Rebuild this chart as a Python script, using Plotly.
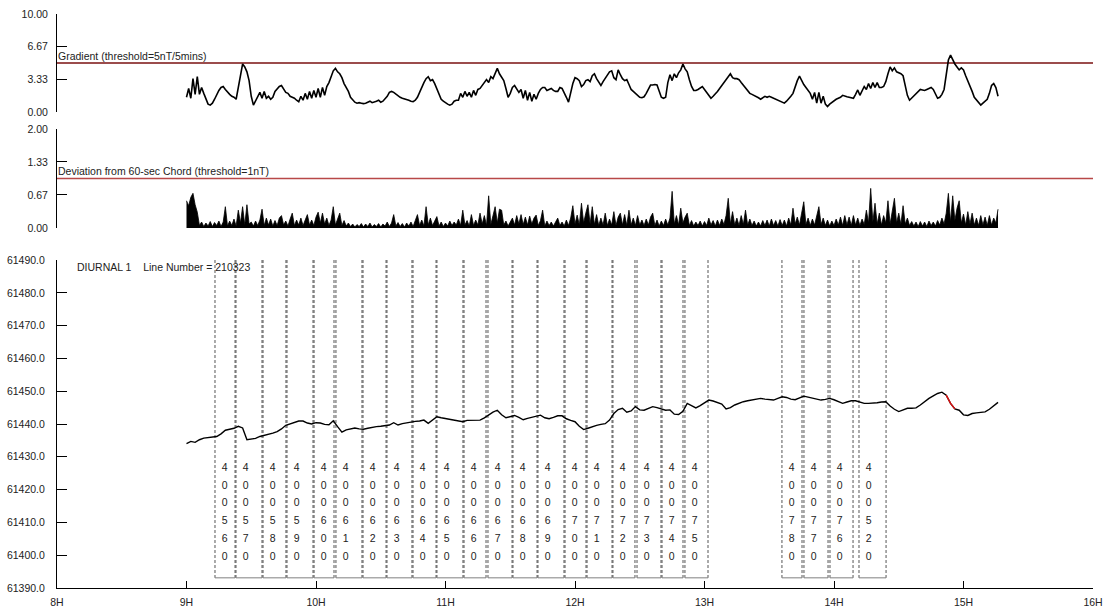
import numpy as np
import plotly.graph_objects as go

# ---------------------------------------------------------------------------
# Survey day 210323 - magnetic base station QC
# ---------------------------------------------------------------------------
START_HOUR = 9.0          # first sample, decimal hours

# Gradient (nT / 5 min), one sample per minute from 09:00
GRAD_STEP_MIN = 1
GRADIENT = [
    1.5, 2.4, 1.4, 3.4, 1.8, 3.6, 1.8, 2.5, 1.9, 1.3,
    0.8, 0.7, 0.9, 1.3, 1.8, 2.2, 2.5, 2.6, 2.3, 2.0,
    1.8, 1.6, 1.5, 1.3, 2.5, 4.0, 4.9, 4.6, 4.1, 3.2,
    1.6, 0.7, 1.1, 1.6, 2.0, 1.4, 2.1, 1.4, 1.6, 1.3,
    1.5, 2.1, 2.4, 2.6, 2.7, 2.3, 2.0, 1.9, 1.6, 1.5,
    1.4, 1.2, 1.05, 1.6, 1.2, 1.9, 1.3, 2.1, 1.4, 2.2,
    1.5, 2.4, 1.5, 2.5, 1.7, 2.6, 3.0, 3.6, 4.2, 4.45,
    4.1, 3.9, 3.5, 2.9, 2.5, 2.1, 1.5, 1.2, 1.0, 0.9,
    0.95, 0.9, 0.85, 0.9, 1.0, 1.1, 0.95, 1.0, 1.1, 1.2,
    1.0, 1.1, 1.3, 1.6, 2.0, 2.1, 2.0, 1.8, 1.7, 1.5,
    1.4, 1.35, 1.3, 1.2, 1.1, 1.05, 1.2, 1.5, 2.0, 2.6,
    3.0, 3.4, 3.6, 3.2, 3.3, 2.9, 2.3, 1.8, 1.3, 1.1,
    0.9, 0.8, 0.7, 0.8, 1.1, 1.2, 1.2, 1.9, 1.5, 2.1,
    1.6, 2.0, 1.5, 2.2, 1.7, 2.3, 2.4, 2.7, 2.9, 3.3,
    3.0, 3.6, 3.4, 3.9, 4.45, 3.9, 3.6, 3.2, 2.4, 1.5,
    1.9, 2.5, 2.7, 2.4, 2.0, 2.3, 1.4, 2.2, 1.2, 2.0,
    1.1, 1.8, 1.3, 1.9, 2.3, 2.5, 2.5, 2.2, 2.3, 2.4,
    2.2, 2.1, 2.1, 2.5, 2.4, 2.0, 1.5, 1.0, 2.0, 2.9,
    3.5, 3.4, 3.2, 2.6, 2.8, 3.2, 3.3, 3.1, 3.7, 3.9,
    3.4, 3.0, 2.7, 3.1, 3.4, 3.7, 4.1, 4.2, 3.5, 3.3,
    4.3, 3.8, 3.4, 3.2, 3.3, 2.8, 2.3, 2.1, 1.9, 1.7,
    1.5, 1.45, 1.55, 1.9, 2.3, 2.75, 2.75, 2.8, 2.75, 2.2,
    1.5, 1.4, 1.5, 3.0, 3.8, 3.2, 3.9, 3.5, 4.0, 4.3,
    4.9, 4.4, 4.1, 3.3, 2.6, 2.2, 2.2, 2.3, 2.45, 2.6,
    2.3, 2.0, 1.7, 1.4, 1.6, 1.8, 2.1, 2.4, 2.7, 3.0,
    3.2, 3.6, 3.9, 3.5, 3.4, 3.4, 3.3, 3.0, 2.7, 2.5,
    2.2, 1.9, 1.8, 1.7, 1.6, 1.45, 1.3, 1.5, 1.6, 1.5,
    1.6, 1.5, 1.4, 1.3, 1.2, 1.1, 1.0, 0.9, 1.1, 1.3,
    1.6, 1.9, 2.6, 3.2, 3.65, 3.2, 2.8, 2.5, 2.2, 1.9,
    1.3, 2.0, 0.9, 2.0, 0.9, 1.6, 0.8, 0.55, 0.8, 1.0,
    1.2, 1.3, 1.4, 1.5, 1.7, 1.6, 1.55, 1.5, 1.45, 1.4,
    1.8, 2.25, 1.7, 2.2, 2.6, 2.3, 2.9, 2.4, 3.0, 2.5,
    3.0, 2.5, 2.5, 2.6, 3.1, 3.9, 4.6, 4.2, 4.5, 4.1,
    4.0, 3.9, 3.7, 2.7, 1.7, 1.2, 1.4, 1.6, 1.9, 2.1,
    2.3, 2.25, 2.2, 2.3, 2.4, 2.5, 2.3, 1.9, 1.4, 1.5,
    1.8, 2.3, 3.8, 5.3, 5.8, 5.3, 4.9, 4.6, 4.3, 4.5,
    4.3, 3.7, 3.2, 2.6, 2.1, 1.5, 1.2, 0.9, 0.7, 0.9,
    1.1, 1.3, 1.9, 2.7, 2.9, 2.5, 1.6,
]

# Deviation from 60-second chord (nT), one sample per minute from 09:00
DEV_STEP_MIN = 1
DEVIATION = [
    0.55, 0.45, 0.62, 0.70, 0.47, 0.32, 0.05, 0.12, 0.03, 0.10,
    0.04, 0.13, 0.03, 0.11, 0.05, 0.14, 0.03, 0.12, 0.43, 0.04,
    0.14, 0.05, 0.18, 0.04, 0.36, 0.10, 0.43, 0.06, 0.47, 0.08,
    0.12, 0.04, 0.14, 0.05, 0.16, 0.38, 0.05, 0.20, 0.06, 0.18,
    0.04, 0.15, 0.05, 0.20, 0.25, 0.06, 0.14, 0.04, 0.18, 0.30,
    0.05, 0.16, 0.06, 0.20, 0.05, 0.18, 0.27, 0.06, 0.16, 0.05,
    0.22, 0.32, 0.10, 0.30, 0.08, 0.20, 0.05, 0.16, 0.43, 0.06,
    0.18, 0.30, 0.05, 0.15, 0.04, 0.10, 0.03, 0.08, 0.02, 0.07,
    0.03, 0.09, 0.02, 0.08, 0.03, 0.10, 0.02, 0.07, 0.03, 0.09,
    0.02, 0.08, 0.04, 0.12, 0.03, 0.10, 0.27, 0.04, 0.11, 0.03,
    0.09, 0.02, 0.10, 0.04, 0.12, 0.03, 0.15, 0.27, 0.05, 0.16,
    0.04, 0.43, 0.06, 0.20, 0.05, 0.15, 0.23, 0.04, 0.12, 0.03,
    0.10, 0.04, 0.14, 0.05, 0.12, 0.06, 0.18, 0.05, 0.36, 0.06,
    0.15, 0.04, 0.27, 0.05, 0.16, 0.06, 0.30, 0.08, 0.25, 0.05,
    0.65, 0.07, 0.28, 0.43, 0.10, 0.38, 0.36, 0.06, 0.14, 0.04,
    0.12, 0.20, 0.06, 0.25, 0.08, 0.27, 0.07, 0.22, 0.06, 0.24,
    0.08, 0.20, 0.26, 0.05, 0.15, 0.36, 0.04, 0.14, 0.05, 0.12,
    0.04, 0.13, 0.20, 0.05, 0.12, 0.04, 0.16, 0.05, 0.20, 0.45,
    0.08, 0.26, 0.06, 0.50, 0.10, 0.30, 0.47, 0.08, 0.43, 0.07,
    0.27, 0.05, 0.20, 0.06, 0.30, 0.05, 0.18, 0.06, 0.33, 0.05,
    0.22, 0.30, 0.06, 0.27, 0.05, 0.36, 0.06, 0.20, 0.05, 0.25,
    0.06, 0.16, 0.05, 0.18, 0.06, 0.22, 0.30, 0.05, 0.16, 0.04,
    0.14, 0.05, 0.18, 0.06, 0.20, 0.74, 0.08, 0.25, 0.06, 0.40,
    0.10, 0.22, 0.30, 0.05, 0.15, 0.04, 0.12, 0.05, 0.14, 0.04,
    0.13, 0.05, 0.20, 0.06, 0.15, 0.04, 0.16, 0.05, 0.18, 0.07,
    0.25, 0.60, 0.08, 0.33, 0.06, 0.20, 0.05, 0.25, 0.07, 0.36,
    0.06, 0.18, 0.05, 0.14, 0.04, 0.12, 0.04, 0.15, 0.05, 0.16,
    0.04, 0.18, 0.05, 0.15, 0.04, 0.17, 0.05, 0.16, 0.04, 0.20,
    0.06, 0.40, 0.08, 0.22, 0.06, 0.30, 0.53, 0.07, 0.20, 0.05,
    0.18, 0.06, 0.25, 0.43, 0.07, 0.20, 0.05, 0.16, 0.04, 0.14,
    0.05, 0.18, 0.06, 0.22, 0.05, 0.25, 0.06, 0.22, 0.05, 0.25,
    0.06, 0.20, 0.05, 0.18, 0.07, 0.36, 0.10, 0.80, 0.12, 0.50,
    0.08, 0.30, 0.06, 0.25, 0.10, 0.55, 0.08, 0.35, 0.60, 0.10,
    0.30, 0.07, 0.45, 0.08, 0.20, 0.05, 0.13, 0.04, 0.12, 0.03,
    0.13, 0.04, 0.12, 0.03, 0.14, 0.05, 0.12, 0.04, 0.15, 0.06,
    0.20, 0.08, 0.30, 0.70, 0.12, 0.65, 0.15, 0.40, 0.55, 0.10,
    0.28, 0.06, 0.33, 0.08, 0.30, 0.06, 0.20, 0.05, 0.25, 0.06,
    0.22, 0.05, 0.25, 0.06, 0.20, 0.10, 0.38,
]

# Diurnal total field (nT), one sample every 2 minutes from 09:00
DIURNAL_STEP_MIN = 2
DIURNAL = [
    61434.0, 61434.7, 61434.4, 61435.2, 61435.7, 61435.8, 61435.9, 61436.2, 61437.0, 61438.1,
    61438.4, 61438.7, 61439.3, 61438.8, 61435.2, 61435.3, 61435.6, 61436.2, 61436.5, 61436.8,
    61437.2, 61437.7, 61438.5, 61439.6, 61440.0, 61440.4, 61440.9, 61440.9, 61440.3, 61440.0,
    61440.4, 61440.3, 61439.9, 61439.8, 61441.0, 61439.2, 61437.5, 61438.2, 61438.6, 61438.8,
    61438.5, 61438.4, 61438.7, 61439.0, 61439.2, 61439.3, 61439.6, 61439.7, 61440.4, 61439.7,
    61440.1, 61440.4, 61440.6, 61440.8, 61440.9, 61441.2, 61440.2, 61441.3, 61442.2, 61441.9,
    61441.7, 61441.5, 61441.3, 61441.1, 61440.7, 61441.1, 61441.2, 61441.1, 61441.2, 61441.9,
    61442.8, 61443.6, 61444.2, 61442.8, 61441.9, 61442.3, 61442.6, 61442.0, 61441.3, 61441.7,
    61442.0, 61442.4, 61442.7, 61441.9, 61441.6, 61442.0, 61442.5, 61442.5, 61441.6, 61441.1,
    61440.7, 61439.3, 61438.3, 61438.7, 61439.2, 61439.6, 61439.9, 61440.1, 61441.2, 61443.2,
    61444.4, 61444.8, 61443.6, 61444.0, 61445.3, 61444.3, 61444.2, 61444.8, 61445.3, 61445.0,
    61444.5, 61444.2, 61444.3, 61443.0, 61442.9, 61443.9, 61446.3, 61445.6, 61444.9, 61445.6,
    61446.5, 61447.3, 61447.0, 61446.6, 61446.1, 61444.6, 61445.0, 61445.8, 61446.4, 61446.8,
    61447.1, 61447.3, 61447.6, 61447.8, 61447.6, 61447.4, 61447.3, 61447.8, 61448.3, 61448.1,
    61447.6, 61447.4, 61448.0, 61448.5, 61448.2, 61447.9, 61447.6, 61447.3, 61447.5, 61447.8,
    61447.4, 61446.8, 61446.3, 61446.7, 61447.1, 61447.1, 61446.7, 61446.3, 61446.3, 61446.3,
    61446.5, 61446.7, 61446.8, 61445.5, 61444.5, 61443.8, 61444.3, 61444.8, 61444.8, 61444.9,
    61445.8, 61446.9, 61447.8, 61448.6, 61449.3, 61449.7, 61448.8, 61446.3, 61444.6, 61444.2,
    61442.8, 61442.6, 61443.2, 61443.4, 61443.5, 61443.7, 61444.5, 61445.6, 61446.6,
]

# Section of the diurnal flagged as out of spec (decimal hours)
FLAG_START, FLAG_END = 14.86, 14.94

# Thresholds
GRADIENT_THRESHOLD = 5.0
DEVIATION_THRESHOLD = 1.0

# Survey lines flown during the day (start / end, decimal hours)
LINE_NAMES = [
    "4005600", "4005700", "4005800", "4005900", "4006000", "4006100",
    "4006200", "4006300", "4006400", "4006500", "4006600", "4006700",
    "4006800", "4006900", "4007000", "4007100", "4007200", "4007300",
    "4007400", "4007500", "4007800", "4007700", "4007600", "4005200",
]
LINE_START = [
    9.220, 9.382, 9.591, 9.776, 9.985, 10.154, 10.363, 10.548, 10.749, 10.934,
    11.143, 11.328, 11.521, 11.714, 11.923, 12.093, 12.293, 12.479, 12.672, 12.849,
    13.598, 13.768, 13.969, 14.193,
]
LINE_END = [
    9.375, 9.583, 9.768, 9.977, 10.139, 10.355, 10.541, 10.741, 10.927, 11.135,
    11.313, 11.514, 11.707, 11.915, 12.085, 12.286, 12.463, 12.664, 12.834, 13.027,
    13.753, 13.954, 14.147, 14.402,
]
LINE_BOX_BOTTOM = 61393.1
LABEL_ROWS = [61426.6, 61421.1, 61415.7, 61410.2, 61404.7, 61399.2]
LABEL_OFFSET_H = 0.075

# Axis ticks
HOURS = [8, 9, 10, 11, 12, 13, 14, 15, 16]
HOUR_LABELS = [f"{h}H" for h in HOURS]
GRAD_TICKS = [0, 10 / 3, 20 / 3, 10]
GRAD_TICKTEXT = ["0.00", "3.33", "6.67", "10.00"]
DEV_TICKS = [0, 2 / 3, 4 / 3, 2]
DEV_TICKTEXT = ["0.00", "0.67", "1.33", "2.00"]

FONT = "Arial, 'Liberation Sans', sans-serif"
TXT = "#222222"


def times(values, step_min):
    return START_HOUR + np.arange(len(values)) * step_min / 60.0


t_grad = times(GRADIENT, GRAD_STEP_MIN)
t_dev = times(DEVIATION, DEV_STEP_MIN)
t_diu = times(DIURNAL, DIURNAL_STEP_MIN)
diurnal = np.array(DIURNAL)

fig = go.Figure()

# --- gradient panel -------------------------------------------------------
fig.add_trace(go.Scatter(x=[HOURS[0], HOURS[-1]], y=[GRADIENT_THRESHOLD] * 2,
                         mode="lines", line=dict(color="#7a1010", width=1.3),
                         xaxis="x2", yaxis="y2"))
fig.add_trace(go.Scatter(x=t_grad, y=GRADIENT, mode="lines",
                         line=dict(color="black", width=1.6),
                         xaxis="x2", yaxis="y2"))

# --- deviation panel ------------------------------------------------------
fig.add_trace(go.Scatter(x=[HOURS[0], HOURS[-1]], y=[DEVIATION_THRESHOLD] * 2,
                         mode="lines", line=dict(color="#b84848", width=1.3),
                         xaxis="x3", yaxis="y3"))
fig.add_trace(go.Scatter(x=t_dev, y=DEVIATION, mode="lines",
                         line=dict(color="black", width=0.8),
                         fill="tozeroy", fillcolor="black",
                         xaxis="x3", yaxis="y3"))

# --- survey line boxes ----------------------------------------------------
top = 61490.0
vx, vy, bx, by = [], [], [], []
for s, e in zip(LINE_START, LINE_END):
    vx += [s, s, None, e, e, None]
    vy += [top, LINE_BOX_BOTTOM, None, top, LINE_BOX_BOTTOM, None]
    bx += [s, e, None]
    by += [LINE_BOX_BOTTOM, LINE_BOX_BOTTOM, None]
fig.add_trace(go.Scatter(x=vx, y=vy, mode="lines",
                         line=dict(color="#555555", width=1, dash="3px,2px")))
fig.add_trace(go.Scatter(x=bx, y=by, mode="lines",
                         line=dict(color="#808080", width=1)))

# vertical line-number labels, one digit per row
lx, ly, lt = [], [], []
for name, s in zip(LINE_NAMES, LINE_START):
    for ch, row in zip(name, LABEL_ROWS):
        lx.append(s + LABEL_OFFSET_H)
        ly.append(row)
        lt.append(ch)
fig.add_trace(go.Scatter(x=lx, y=ly, text=lt, mode="text",
                         textfont=dict(family=FONT, size=10.5, color=TXT)))

# --- diurnal curve --------------------------------------------------------
fig.add_trace(go.Scatter(x=t_diu, y=diurnal, mode="lines",
                         line=dict(color="black", width=1.4)))
flag = (t_diu >= FLAG_START) & (t_diu <= FLAG_END)
fig.add_trace(go.Scatter(x=t_diu[flag], y=diurnal[flag], mode="lines",
                         line=dict(color="#e01010", width=1.4)))

axis_common = dict(showgrid=False, zeroline=False, showline=True,
                   linecolor="black", linewidth=1, ticks="inside",
                   tickcolor="black", tickwidth=1, automargin=False,
                   tickfont=dict(family=FONT, size=10.5, color=TXT))

fig.update_layout(
    width=1105, height=608,
    margin=dict(l=57, r=12, t=14, b=20, autoexpand=False),
    paper_bgcolor="white", plot_bgcolor="white",
    showlegend=False,
    font=dict(family=FONT, size=10.5, color=TXT),
    xaxis=dict(axis_common, domain=[0, 1], range=[8, 16], anchor="y",
               tickvals=HOURS, ticktext=HOUR_LABELS, ticklen=7,
               ticklabelstandoff=4),
    xaxis2=dict(domain=[0, 1], range=[8, 16], anchor="y2", visible=False,
                automargin=False),
    xaxis3=dict(domain=[0, 1], range=[8, 16], anchor="y3", visible=False,
                automargin=False),
    yaxis=dict(axis_common, domain=[0, 0.5714], range=[61390, 61490],
               dtick=10, tick0=61390, tickformat=".1f", ticklen=10,
               anchor="x", ticklabelstandoff=9),
    yaxis2=dict(axis_common, domain=[0.8293, 1.0], range=[0, 10],
                tickvals=GRAD_TICKS, ticktext=GRAD_TICKTEXT, ticklen=10,
                anchor="x2", ticklabelstandoff=6),
    yaxis3=dict(axis_common, domain=[0.6272, 0.7997], range=[0, 2],
                tickvals=DEV_TICKS, ticktext=DEV_TICKTEXT, ticklen=10,
                anchor="x3", ticklabelstandoff=6),
    annotations=[
        dict(text="Gradient (threshold=5nT/5mins)", x=8, y=GRADIENT_THRESHOLD,
             xref="x2", yref="y2", xanchor="left", yanchor="bottom",
             showarrow=False, font=dict(family=FONT, size=10.5, color=TXT),
             borderpad=0),
        dict(text="Deviation from 60-sec Chord (threshold=1nT)", x=8,
             y=DEVIATION_THRESHOLD, xref="x3", yref="y3", xanchor="left",
             yanchor="bottom", showarrow=False,
             font=dict(family=FONT, size=10.5, color=TXT), borderpad=0),
        dict(text="DIURNAL 1&nbsp;&nbsp;&nbsp;&nbsp;Line Number = 210323",
             x=8.15, y=61490, xref="x", yref="y", xanchor="left",
             yanchor="top", showarrow=False, borderpad=0,
             font=dict(family=FONT, size=10.5, color=TXT)),
    ],
)

fig.write_html("out.html")
